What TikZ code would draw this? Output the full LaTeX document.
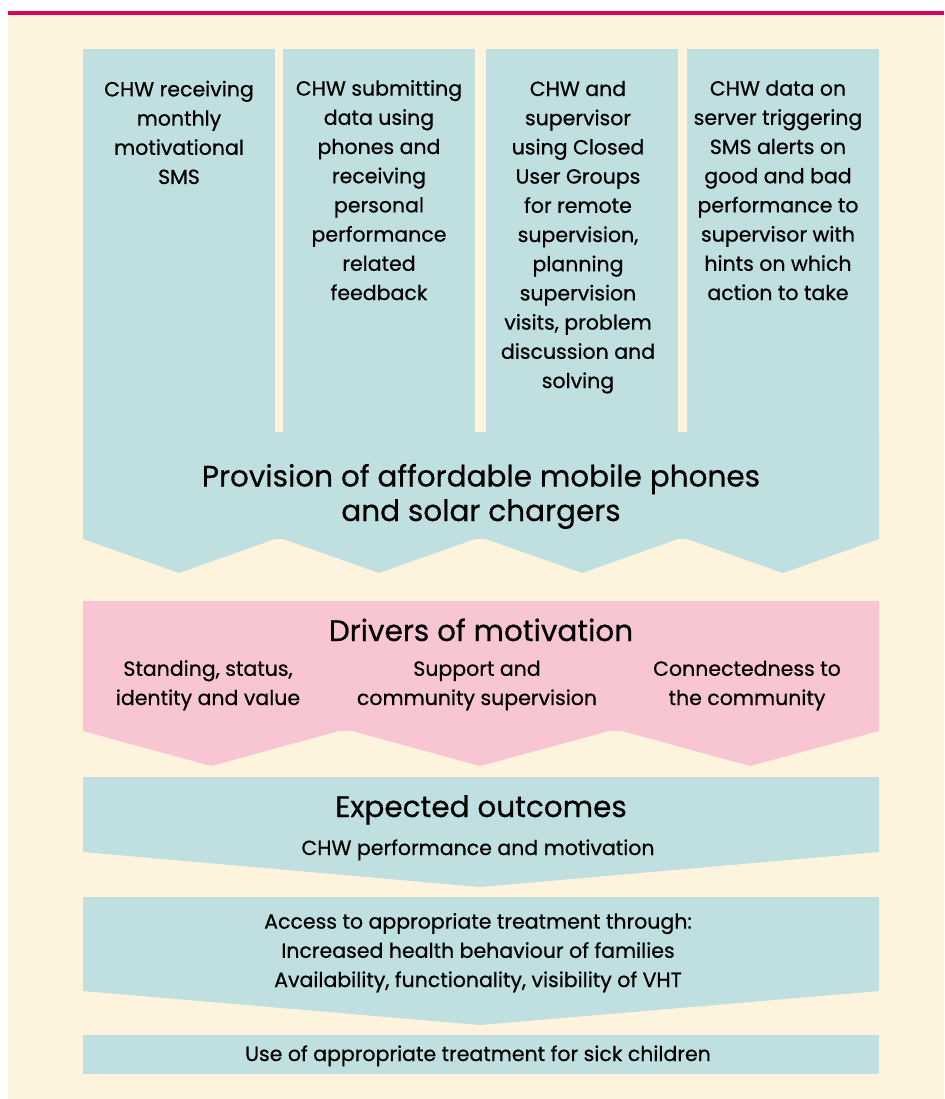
\documentclass[tikz,border=0pt]{standalone}
\usepackage{fontspec}
\setmainfont{Poppins}[FakeBold=0.6]
\definecolor{cream}{HTML}{FEF3DD}
\definecolor{tealbox}{HTML}{BFDFE0}
\definecolor{rosebox}{HTML}{F7C6D2}
\definecolor{topbar}{HTML}{E0005E}
\begin{document}
\begin{tikzpicture}[
    x=1pt,y=-1pt,
    coltext/.style={align=center, anchor=base, inner sep=0pt,
      font=\fontsize{20.5}{29.2}\selectfont},
    bigtext/.style={align=center, anchor=base, inner sep=0pt,
      font=\fontsize{29.5}{34.5}\selectfont},
    smalltext/.style={align=center, anchor=base, inner sep=0pt,
      font=\fontsize{20.5}{29.2}\selectfont}
    ]
  \useasboundingbox (0,0) rectangle (944,1099);
  \fill[white] (0,0) rectangle (944,1099);
  \fill[cream] (8,15) rectangle (944,1099);
  \fill[topbar] (8,11) rectangle (944,15);
  % interventions (anchored at the last line)
  \fill[tealbox] (83,49) rectangle (275,433);
  \fill[tealbox] (283,49) rectangle (475,433);
  \fill[tealbox] (486,49) rectangle (678,433);
  \fill[tealbox] (687,49) rectangle (879,433);
  \fill[tealbox] (83,432) -- (879,432) -- (879,539) -- (783,573) -- (687,539)
    -- (678,539) -- (582,573) -- (486,539) -- (475,539) -- (379,573)
    -- (283,539) -- (275,539) -- (179,573) -- (83,539) -- cycle;
  \node[coltext] (sms) at (179,184) {CHW receiving\\monthly\\motivational\\SMS};
  \node[coltext] (feedback) at (379,300) {CHW submitting\\data using\\phones and\\receiving\\personal\\performance\\related\\feedback};
  \node[coltext] (cug) at (578,388) {CHW and\\supervisor\\using Closed\\User Groups\\for remote\\supervision,\\planning\\supervision\\visits, problem\\discussion and\\solving};
  \node[coltext] (alerts) at (778,300) {CHW data on\\server triggering\\SMS alerts on\\good and bad\\performance to\\supervisor with\\hints on which\\action to take};
  \node[bigtext] (provision) at (481,521) {Provision of affordable mobile phones\\and solar chargers};
  % drivers
  \fill[rosebox] (83,601) -- (879,601) -- (879,731) -- (750,766) -- (622,731)
    -- (609,731) -- (480,766) -- (352,731) -- (339,731) -- (211,766)
    -- (83,731) -- cycle;
  \node[bigtext] (drivers) at (481,641) {Drivers of motivation};
  \node[smalltext] (standing) at (208,705) {Standing, status,\\identity and value};
  \node[smalltext] (support) at (477,705) {Support and\\community supervision};
  \node[smalltext] (connected) at (747,705) {Connectedness to\\the community};
  % outcomes
  \fill[tealbox] (83,777) -- (879,777) -- (879,852) -- (480,887) -- (83,852) -- cycle;
  \node[bigtext] (expected) at (481,817) {Expected outcomes};
  \node[smalltext] (performance) at (478,855) {CHW performance and motivation};
  \fill[tealbox] (83,897) -- (879,897) -- (879,991) -- (480,1025) -- (83,991) -- cycle;
  \node[smalltext] (access) at (478,987) {Access to appropriate treatment through:\\Increased health behaviour of families\\Availability, functionality, visibility of VHT};
  \fill[tealbox] (83,1035) rectangle (879,1074);
  \node[smalltext] (use) at (478,1061) {Use of appropriate treatment for sick children};
\end{tikzpicture}
\end{document}
